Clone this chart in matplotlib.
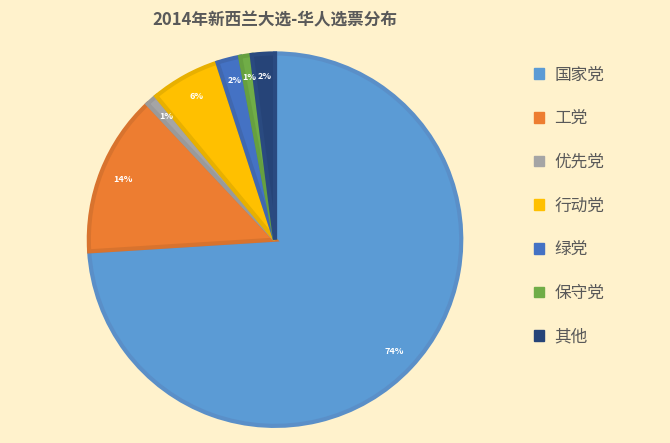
import matplotlib
matplotlib.use("Agg")
import matplotlib.pyplot as plt
from matplotlib.patches import Patch

plt.rcParams['font.family'] = ['Noto Sans CJK SC', 'DejaVu Sans']

labels = ['国家党', '工党', '优先党', '行动党', '绿党', '保守党', '其他']
values = [74, 14, 1, 6, 2, 1, 2]
colors = ['#5B9BD5', '#ED7D31', '#A5A5A5', '#FFC000', '#4472C4', '#70AD47', '#264478']
edges = ['#5A8FC8', '#D8732E', '#9A9A9A', '#E8B000', '#4068B0', '#66A040', '#2A4A80']
bg = '#FFF2CC'

fig = plt.figure(figsize=(6.7, 4.43), dpi=100, facecolor=bg)
ax = fig.add_axes([0.127, 0.03, 0.567, 0.858])
ax.set_facecolor(bg)
wedges, texts, autotexts = ax.pie(values, colors=colors, startangle=90, counterclock=False,
                                  autopct='%d%%', pctdistance=0.88,
                                  wedgeprops=dict(linewidth=3),
                                  textprops=dict(color='white', fontsize=6.5, fontweight='bold'))
for w, e in zip(wedges, edges):
    w.set_edgecolor(e)
ax.set_xlim(-1.02, 1.02)
ax.set_ylim(-1.02, 1.02)
ax.set_aspect('equal')

fig.text(0.41, 0.955, '2014年新西兰大选-华人选票分布', ha='center', va='center',
         fontsize=12, fontweight='bold', color='#595959')

handles = [Patch(facecolor=c, edgecolor=c) for c in colors]
fig.legend(handles, labels, loc='center left', bbox_to_anchor=(0.775, 0.535), frameon=False,
           fontsize=12, labelcolor='#595959', handlelength=0.6, handleheight=0.6,
           labelspacing=1.6, handletextpad=0.6)

fig.savefig('out.png', dpi=100, facecolor=bg)
